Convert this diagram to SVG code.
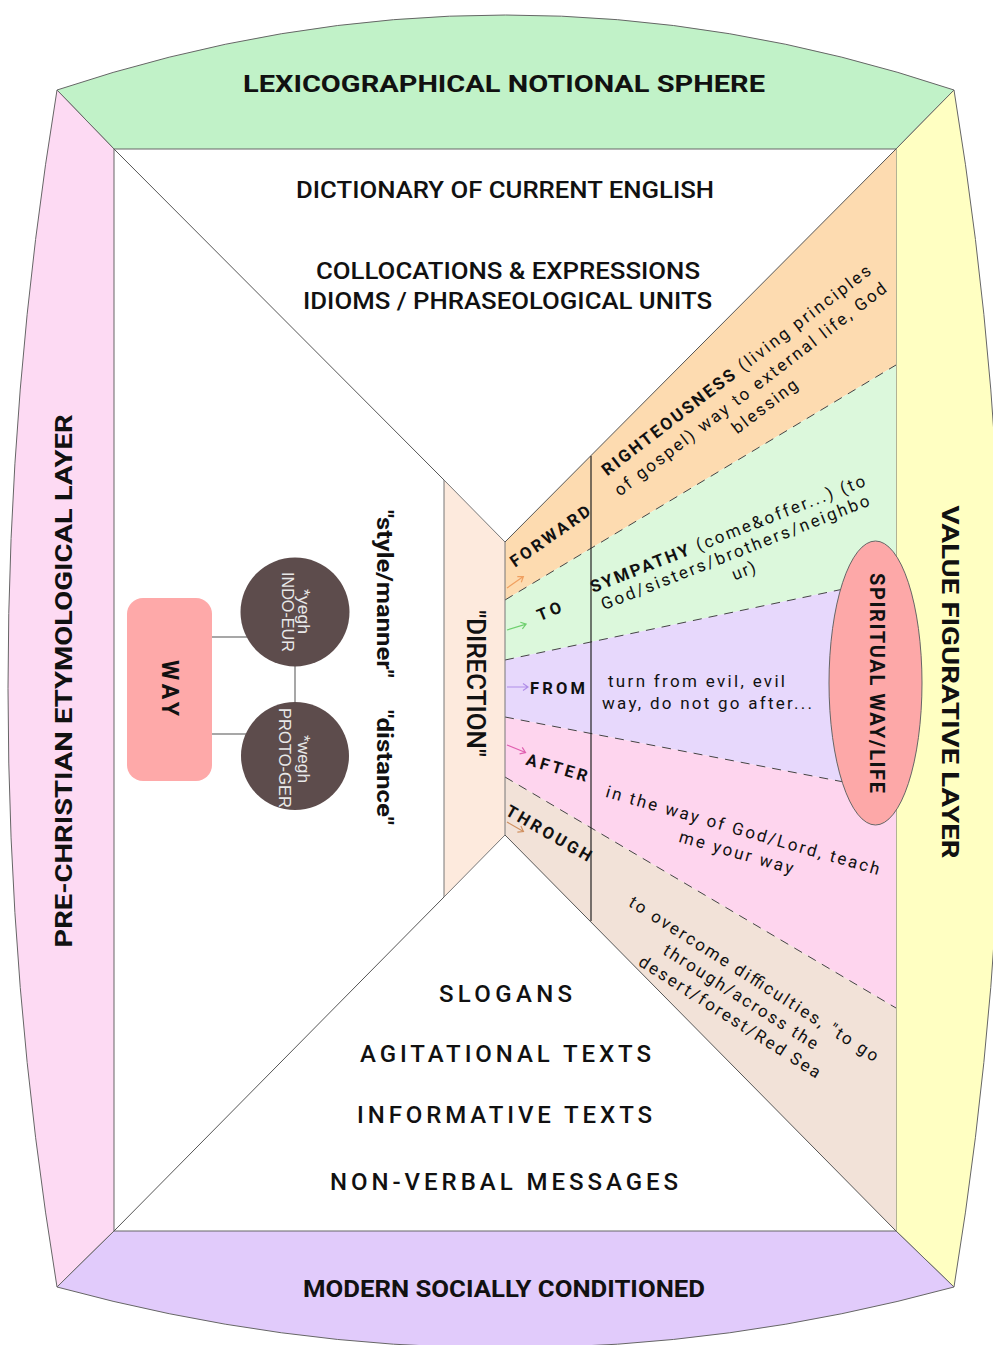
<svg xmlns="http://www.w3.org/2000/svg" width="993" height="1345" viewBox="0 0 993 1345">
<style>
.band{stroke:#666;stroke-width:1}
.ln{stroke:#555;stroke-width:1;fill:none}
.dash{stroke:#444;stroke-width:1;stroke-dasharray:9 7;fill:none}
.t{font-family:Roboto,"Liberation Sans",sans-serif;fill:#111}
.title{font-weight:700;font-size:24px}
.mid{font-weight:500;font-size:23px}
.low{font-weight:500;font-size:24px}
.lbl{font-weight:700;font-size:16.5px}
.fan{font-size:17px;font-weight:400}
.circ{font-family:"Liberation Sans",Arial,sans-serif;font-size:17px;fill:#e8e8e8}
.conn{stroke:#8a8a8a;stroke-width:1.5;fill:none}
.arr{fill:none;stroke-width:1.2}
</style>
<rect width="993" height="1345" fill="#ffffff"/>

<g id="layer-top">
<path class="band" fill="#c1f2c8" d="M57,90 Q505.5,-60 954,90 L896,149 L114,149 Z"/>
<text class="t title" x="504" y="92" text-anchor="middle" textLength="522" lengthAdjust="spacingAndGlyphs">LEXICOGRAPHICAL NOTIONAL SPHERE</text>
</g>
<g id="layer-left">
<path class="band" fill="#fddaf3" d="M57,90 L114,149 L114,1231 L57,1287 Q-41,688 57,90 Z"/>
<text class="t title" font-size="22" transform="translate(63,681) rotate(-90)" text-anchor="middle" dy="0.36em" textLength="533" lengthAdjust="spacingAndGlyphs">PRE-CHRISTIAN ETYMOLOGICAL LAYER</text>
</g>
<g id="layer-right">
<path class="band" fill="#ffffc2" d="M954,90 Q1052,688 954,1287 L896,1231 L896,149 Z"/>
<text class="t title" transform="translate(951,682) rotate(90)" text-anchor="middle" dy="0.36em" textLength="353" lengthAdjust="spacingAndGlyphs">VALUE FIGURATIVE LAYER</text>
</g>
<g id="layer-bottom">
<path class="band" fill="#e1cbfb" d="M57,1287 L114,1231 L896,1231 L954,1287 Q505.5,1409 57,1287 Z"/>
<text class="t title" x="504" y="1297" text-anchor="middle" textLength="402" lengthAdjust="spacingAndGlyphs">MODERN SOCIALLY CONDITIONED</text>
</g>

<g id="fan-bands">
<polygon fill="#fddbb0" points="505,542 896,149 896,365 505,600"/>
<polygon fill="#dcf8dc" points="505,600 896,365 896,578 505,660"/>
<polygon fill="#e7d8fc" points="505,660 896,578 896,792 505,717"/>
<polygon fill="#fed5ee" points="505,717 896,792 896,1008 505,777"/>
<polygon fill="#f2e2d8" points="505,777 896,1008 896,1231 505,835"/>
</g>

<g id="connectors">
<line class="ln" x1="114" y1="149" x2="444" y2="480"/>
<line class="ln" x1="114" y1="1231" x2="444" y2="897"/>
<line class="ln" x1="896" y1="149" x2="505" y2="542"/>
<line class="ln" x1="896" y1="1231" x2="505" y2="835"/>
<line class="dash" x1="505" y1="600" x2="896" y2="365"/>
<line class="dash" x1="505" y1="660" x2="896" y2="578"/>
<line class="dash" x1="505" y1="717" x2="896" y2="792"/>
<line class="dash" x1="505" y1="777" x2="896" y2="1008"/>
<line x1="591" y1="456" x2="591" y2="921" stroke="#222" stroke-width="1.2"/>
<line class="conn" x1="212" y1="637" x2="247" y2="637"/>
<line class="conn" x1="212" y1="734" x2="246" y2="734"/>
<line class="conn" x1="295" y1="666" x2="295" y2="703"/>
<path class="arr" stroke="#f0a060" transform="translate(507,588) rotate(-35)" d="M0,0 H20 M15,-3.5 L20,0 L15,3.5"/>
<path class="arr" stroke="#6fd06f" transform="translate(507,630) rotate(-17)" d="M0,0 H20 M15,-3.5 L20,0 L15,3.5"/>
<path class="arr" stroke="#b08ee8" transform="translate(507,687)" d="M0,0 H21 M16,-3.5 L21,0 L16,3.5"/>
<path class="arr" stroke="#e060b0" transform="translate(507,745) rotate(22)" d="M0,0 H20 M15,-3.5 L20,0 L15,3.5"/>
<path class="arr" stroke="#d09060" transform="translate(507,822) rotate(30)" d="M0,0 H19 M14,-3.5 L19,0 L14,3.5"/>
</g>

<g id="top-texts">
<text class="t mid" x="505" y="198" text-anchor="middle" textLength="418" lengthAdjust="spacingAndGlyphs">DICTIONARY OF CURRENT ENGLISH</text>
<text class="t mid" x="508" y="279" text-anchor="middle" textLength="384" lengthAdjust="spacingAndGlyphs">COLLOCATIONS &amp; EXPRESSIONS</text>
<text class="t mid" x="507.5" y="309" text-anchor="middle" textLength="409" lengthAdjust="spacingAndGlyphs">IDIOMS / PHRASEOLOGICAL UNITS</text>
</g>

<g id="bottom-texts">
<text class="t low" x="505.5" y="1002" text-anchor="middle" textLength="133" lengthAdjust="spacing">SLOGANS</text>
<text class="t low" x="505.5" y="1062" text-anchor="middle" textLength="291" lengthAdjust="spacing">AGITATIONAL TEXTS</text>
<text class="t low" x="504.5" y="1123" text-anchor="middle" textLength="295" lengthAdjust="spacing">INFORMATIVE TEXTS</text>
<text class="t low" x="504" y="1190" text-anchor="middle" textLength="348" lengthAdjust="spacing">NON-VERBAL MESSAGES</text>
</g>

<g id="way">
<rect x="127" y="598" width="85" height="183" rx="16" fill="#fea9a9"/>
<text class="t" font-weight="700" font-size="23" transform="translate(170,688) rotate(90)" text-anchor="middle" dy="0.36em" textLength="56" lengthAdjust="spacing">WAY</text>
</g>
<g id="indo-eur">
<circle cx="295" cy="612" r="54.5" fill="#5d4c4c"/>
<text class="circ" transform="translate(295,611.5) rotate(90)" text-anchor="middle" y="-3" textLength="45" lengthAdjust="spacingAndGlyphs">*yegh</text>
<text class="circ" transform="translate(295,612) rotate(90)" text-anchor="middle" y="13" textLength="80" lengthAdjust="spacingAndGlyphs">INDO-EUR</text>
</g>
<g id="proto-ger">
<circle cx="295" cy="756" r="54" fill="#5d4c4c"/>
<text class="circ" transform="translate(295,759) rotate(90)" text-anchor="middle" y="-3" textLength="48" lengthAdjust="spacingAndGlyphs">*wegh</text>
<text class="circ" transform="translate(295,758) rotate(90)" text-anchor="middle" y="16" textLength="100" lengthAdjust="spacingAndGlyphs">PROTO-GER</text>
</g>

<g id="style-distance">
<text class="t" font-weight="700" font-size="22" transform="translate(385,594) rotate(90)" text-anchor="middle" dy="0.36em" textLength="168" lengthAdjust="spacingAndGlyphs">"style/manner"</text>
<text class="t" font-weight="700" font-size="22" transform="translate(385,767.5) rotate(90)" text-anchor="middle" dy="0.36em" textLength="115" lengthAdjust="spacingAndGlyphs">"distance"</text>
</g>

<g id="direction">
<polygon fill="#fdeadd" stroke="#777" stroke-width="1" points="444,480 505,542 505,835 444,897"/>
<text class="t" font-weight="500" font-size="26" transform="translate(476,683.5) rotate(90)" text-anchor="middle" dy="0.36em" textLength="147" lengthAdjust="spacingAndGlyphs">"DIRECTION"</text>
</g>

<g id="forward">
<text class="t lbl" transform="translate(550,536) rotate(-35)" text-anchor="middle" dy="0.36em" textLength="94" lengthAdjust="spacing">FORWARD</text>
<text class="t fan" transform="translate(736,370) rotate(-37.5)" text-anchor="middle" dy="0.36em" textLength="334" lengthAdjust="spacing"><tspan font-weight="700">RIGHTEOUSNESS</tspan> (living principles</text>
<text class="t fan" transform="translate(750,389) rotate(-37.5)" text-anchor="middle" dy="0.36em" textLength="338" lengthAdjust="spacing">of gospel) way to external life, God</text>
<text class="t fan" transform="translate(764.5,406) rotate(-37.5)" text-anchor="middle" dy="0.36em" textLength="78" lengthAdjust="spacing">blessing</text>
</g>
<g id="to">
<text class="t lbl" transform="translate(549,611) rotate(-22)" text-anchor="middle" dy="0.36em" textLength="25" lengthAdjust="spacing">TO</text>
<text class="t fan" transform="translate(727.5,533.5) rotate(-21.5)" text-anchor="middle" dy="0.36em" textLength="294" lengthAdjust="spacing"><tspan font-weight="700">SYMPATHY</tspan> (come&amp;offer...) (to</text>
<text class="t fan" transform="translate(735,552) rotate(-21.5)" text-anchor="middle" dy="0.36em" textLength="287" lengthAdjust="spacing">God/sisters/brothers/neighbo</text>
<text class="t fan" transform="translate(743.5,570.5) rotate(-21.5)" text-anchor="middle" dy="0.36em" textLength="24" lengthAdjust="spacing">ur)</text>
</g>
<g id="from">
<text class="t lbl" x="557.5" y="688" text-anchor="middle" dy="0.36em" textLength="55" lengthAdjust="spacing">FROM</text>
<text class="t fan" x="696.5" y="681" text-anchor="middle" dy="0.36em" textLength="177" lengthAdjust="spacing">turn from evil, evil</text>
<text class="t fan" x="707" y="703" text-anchor="middle" dy="0.36em" textLength="210" lengthAdjust="spacing">way, do not go after...</text>
</g>
<g id="after">
<text class="t lbl" transform="translate(557,767.5) rotate(16)" text-anchor="middle" dy="0.36em" textLength="63" lengthAdjust="spacing">AFTER</text>
<text class="t fan" transform="translate(743,830) rotate(16)" text-anchor="middle" dy="0.36em" textLength="284" lengthAdjust="spacing">in the way of God/Lord, teach</text>
<text class="t fan" transform="translate(736.5,852) rotate(16)" text-anchor="middle" dy="0.36em" textLength="118" lengthAdjust="spacing">me your way</text>
</g>
<g id="through">
<text class="t lbl" transform="translate(549,833) rotate(30)" text-anchor="middle" dy="0.36em" textLength="96" lengthAdjust="spacing">THROUGH</text>
<text class="t fan" transform="translate(754,978.5) rotate(32.5)" text-anchor="middle" dy="0.36em" textLength="292" lengthAdjust="spacing">to overcome difficulties, "to go</text>
<text class="t fan" transform="translate(741,996.5) rotate(32.5)" text-anchor="middle" dy="0.36em" textLength="180" lengthAdjust="spacing">through/across the</text>
<text class="t fan" transform="translate(730,1016.5) rotate(32.5)" text-anchor="middle" dy="0.36em" textLength="212" lengthAdjust="spacing">desert/forest/Red Sea</text>
</g>

<g id="spiritual">
<ellipse cx="875.5" cy="683" rx="46.5" ry="142" fill="#fda8a8" stroke="#666" stroke-width="1"/>
<text class="t" font-weight="700" font-size="20" transform="translate(877,683) rotate(90)" text-anchor="middle" dy="0.36em" textLength="220" lengthAdjust="spacing">SPIRITUAL WAY/LIFE</text>
</g>
</svg>
